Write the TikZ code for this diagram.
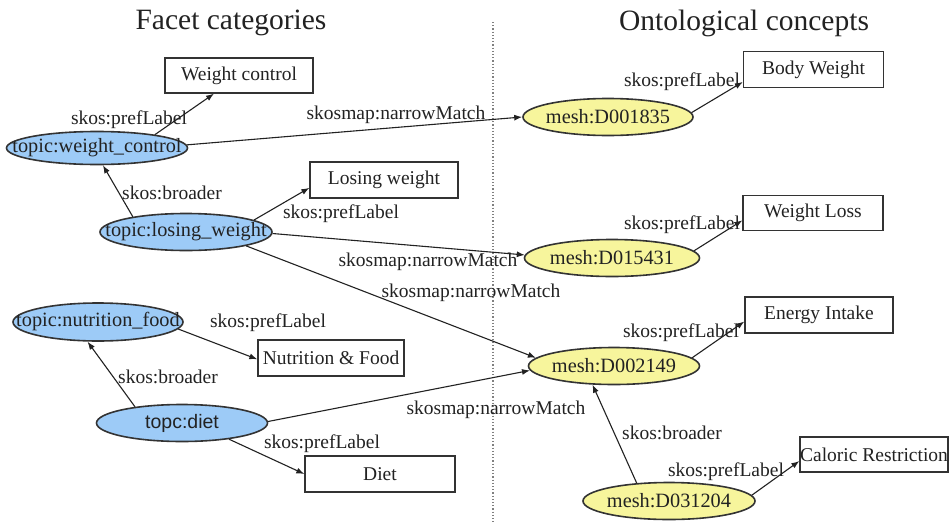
\documentclass[tikz,border=0pt]{standalone}
\usepackage{fontspec}
\setmainfont{Liberation Serif}
\setsansfont{Liberation Sans}
\usetikzlibrary{arrows.meta,shapes.geometric}
\definecolor{facet}{HTML}{9DCBF7}
\definecolor{concept}{HTML}{F7F59C}
\definecolor{ink}{HTML}{222222}
\definecolor{rim}{HTML}{333333}
\newcommand\lbl{\fontsize{19.5}{22}\selectfont}
\newcommand\ovl{\fontsize{20.3}{23}\selectfont}
\newcommand\ttl{\fontsize{29.5}{32}\selectfont}
\newcommand\fixed[1]{\makebox[0pt]{#1}}
\tikzset{
  topic/.style={ellipse,draw=rim,fill=facet,line width=1.6pt,minimum width=172pt,
                minimum height=37pt,inner sep=0pt,font=\ovl,text=ink},
  mesh/.style={topic,fill=concept},
  term/.style={draw=rim,line width=1.3pt,fill=white,minimum width=148pt,
               minimum height=36pt,inner sep=0pt,font=\lbl,text=ink},
  rel/.style={font=\lbl,inner sep=1pt,text=ink},
  arrow/.style={-{Latex[length=8pt,width=6pt]},line width=1.1pt,draw=ink}
}
\begin{document}
\begin{tikzpicture}[x=1pt,y=-1pt]
\useasboundingbox[fill=white] (0,0) rectangle (949,522);
% column headings and separator
\node[font=\ttl,text=ink] (facets) at (231,23) {Facet categories};
\node[font=\ttl,text=ink] (concepts) at (744,23) {Ontological concepts};
\draw[gray,dotted,line width=1.2pt] (493,22) -- (493,522);
% facet topics
\node[topic,minimum width=181pt,minimum height=33pt] (wctl) at (97,148) {\fixed{topic:weight\_control}};
\node[topic] (lwgt) at (186,232) {\fixed{topic:losing\_weight}};
\node[topic,minimum width=170pt,minimum height=38pt] (nfood) at (98,322) {\fixed{topic:nutrition\_food}};
\node[topic,minimum width=171pt,font=\sffamily\lbl] (diet) at (182,423) {\fixed{topc:diet}};
% mesh concepts
\node[mesh,minimum width=170pt] (d001835) at (608,117) {\fixed{mesh:D001835}};
\node[mesh,minimum width=175pt] (d015431) at (612,258) {\fixed{mesh:D015431}};
\node[mesh,minimum width=171pt] (d002149) at (614,366) {\fixed{mesh:D002149}};
\node[mesh,minimum width=172pt] (d031204) at (669,501) {\fixed{mesh:D031204}};
% labels
\node[term,minimum height=35pt] (bwc) at (239,75.5) {\fixed{Weight control}};
\node[term] (blw) at (384,180) {\fixed{Losing weight}};
\node[term,minimum width=146pt] (bnf) at (331,358) {\fixed{Nutrition \& Food}};
\node[term,minimum width=150pt] (bdiet) at (380,474) {\fixed{Diet}};
\node[term,minimum width=140pt] (bbw) at (813.5,69.5) {\fixed{Body Weight}};
\node[term,minimum width=140pt,minimum height=35pt] (bwl) at (813,213) {\fixed{Weight Loss}};
\node[term] (bei) at (819,315) {\fixed{Energy Intake}};
\node[term,minimum height=35pt] (bcr) at (874,454.5) {\fixed{Caloric Restriction}};
% edges
\draw[arrow] (wctl.13) -- (bwc.216);
\draw[arrow] (wctl.2) -- (d001835.180);
\draw[arrow] (lwgt.164) -- (wctl.289);
\draw[arrow] (lwgt.10) -- (blw.186);
\draw[arrow] (lwgt.359) -- (d015431.178);
\draw[arrow] (lwgt.347) -- (d002149.174);
\draw[arrow] (nfood.355) -- (bnf.181);
\draw[arrow] (diet.161) -- (nfood.242);
\draw[arrow] (diet.1) -- (d002149.183);
\draw[arrow] (diet.341) -- (bdiet.180);
\draw[arrow] (d001835.3) -- (bbw.190);
\draw[arrow] (d015431.5) -- (bwl.186);
\draw[arrow] (d002149.6) -- (bei.185);
\draw[arrow] (d031204.151) -- (d002149.221);
\draw[arrow] (d031204.4) -- (bcr.185);
% edge labels
\node[rel] (l1) at (129,120) {skos:prefLabel};
\node[rel] (l2) at (396,115) {skosmap:narrowMatch};
\node[rel] (l3) at (172,193) {skos:broader};
\node[rel] (l4) at (341,214) {skos:prefLabel};
\node[rel] (l5) at (428,262) {skosmap:narrowMatch};
\node[rel] (l6) at (471,293) {skosmap:narrowMatch};
\node[rel] (l7) at (268,323) {skos:prefLabel};
\node[rel] (l8) at (168,377) {skos:broader};
\node[rel] (l9) at (496,410) {skosmap:narrowMatch};
\node[rel] (l10) at (322,444) {skos:prefLabel};
\node[rel] (l11) at (682,82) {skos:prefLabel};
\node[rel] (l12) at (682,225) {skos:prefLabel};
\node[rel] (l13) at (681,333) {skos:prefLabel};
\node[rel] (l14) at (672,433) {skos:broader};
\node[rel] (l15) at (726,472) {skos:prefLabel};
\end{tikzpicture}
\end{document}
